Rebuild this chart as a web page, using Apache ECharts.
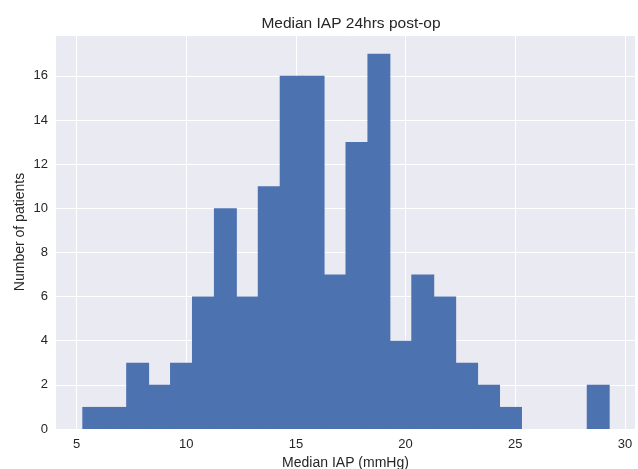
<!DOCTYPE html>
<html>
<head>
<meta charset="utf-8">
<script src="https://cdn.jsdelivr.net/npm/echarts@6/dist/echarts.min.js"></script>
<style>
  html, body { margin: 0; padding: 0; background: #fff; }
  #main { width: 638px; height: 469px; }
</style>
</head>
<body>
<div id="main"></div>
<script>
// histogram bins (left / right edges, mmHg) and patient counts
var binLeft  = [5.26, 6.26, 7.26, 8.26, 9.26, 10.26, 11.26, 12.26, 13.26, 14.26, 15.26, 16.26,
                17.26, 18.26, 19.26, 20.26, 21.26, 22.26, 23.26, 24.26, 25.26, 26.26, 27.26, 28.26];
var binRight = [6.26, 7.26, 8.26, 9.26, 10.26, 11.26, 12.26, 13.26, 14.26, 15.26, 16.26, 17.26,
                18.26, 19.26, 20.26, 21.26, 22.26, 23.26, 24.26, 25.26, 26.26, 27.26, 28.26, 29.26];
var counts   = [1, 1, 3, 2, 3, 6, 10, 6, 11, 16, 16, 7,
                13, 17, 4, 7, 6, 3, 2, 1, 0, 0, 0, 2];
var xTicks = [5, 10, 15, 20, 25, 30];

var font = "'Liberation Sans', Arial, sans-serif";
var textColor = "#262626";

var histData = binLeft.map(function (l, i) {
  return [l, binRight[i], counts[i]];
});

var myChart = echarts.init(document.getElementById("main"));
myChart.setOption({
  animation: false,
  title: {
    text: "Median IAP 24hrs post-op",
    left: 346,
    textAlign: "center",
    top: 11,
    textStyle: { fontFamily: font, fontSize: 15.5, fontWeight: "normal", color: textColor }
  },
  grid: {
    left: 56,
    right: 3,
    top: 35,
    bottom: 40,
    outerBoundsMode: "none",
    containLabel: false,
    show: true,
    backgroundColor: "#EAEAF2",
    borderWidth: 0
  },
  xAxis: {
    type: "value",
    min: 4.06,
    max: 30.46,
    name: "Median IAP (mmHg)",
    nameLocation: "middle",
    nameGap: 27,
    nameMoveOverlap: false,
    nameTextStyle: { fontFamily: font, fontSize: 14, color: textColor },
    axisLine: { show: false },
    axisTick: { show: false, customValues: xTicks },
    axisLabel: { customValues: xTicks, margin: 9, fontFamily: font, fontSize: 13, color: textColor },
    splitLine: { show: true, lineStyle: { color: "#ffffff", width: 1 } }
  },
  yAxis: {
    type: "value",
    min: 0,
    max: 17.85,
    interval: 2,
    name: "Number of patients",
    nameLocation: "middle",
    nameGap: 29,
    nameMoveOverlap: false,
    nameTextStyle: { fontFamily: font, fontSize: 14, color: textColor },
    axisLine: { show: false },
    axisTick: { show: false },
    axisLabel: { showMaxLabel: false, margin: 8, fontFamily: font, fontSize: 13, color: textColor },
    splitLine: { show: true, lineStyle: { color: "#ffffff", width: 1 } }
  },
  series: [{
    type: "custom",
    data: histData,
    encode: { x: [0, 1], y: 2 },
    renderItem: function (params, api) {
      if (!api.value(2)) return null;
      var p0 = api.coord([api.value(0), api.value(2)]);
      var p1 = api.coord([api.value(1), 0]);
      // overlap a little so neighbouring bins don't show seams
      return {
        type: "rect",
        shape: { x: p0[0], y: p0[1], width: p1[0] - p0[0] + 1, height: p1[1] - p0[1] },
        style: { fill: "#4C72B0" }
      };
    }
  }]
});
</script>
</body>
</html>
